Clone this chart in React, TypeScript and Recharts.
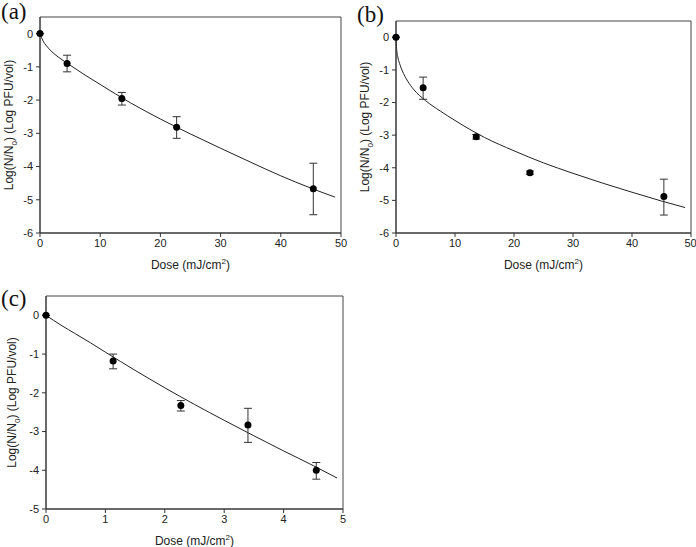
import React from 'react';
import {
  ComposedChart,
  Line,
  Scatter,
  ErrorBar,
  XAxis,
  YAxis,
  ReferenceArea,
  Label,
} from 'recharts';

// (a) measured points + fitted curve
const doseA = [0, 4.5, 13.6, 22.7, 45.4];
const logA = [0, -0.9, -1.95, -2.82, -4.67];
const errLowA = [0, 0.25, 0.2, 0.33, 0.78];
const errHighA = [0, 0.25, 0.18, 0.32, 0.77];
const fitDoseA = [0, 0.5, 1, 2, 3, 5, 7.5, 10, 15, 20, 25, 30, 35, 40, 45, 49];
const fitLogA = [0, -0.22, -0.35, -0.55, -0.7, -0.95, -1.25, -1.53, -2.08, -2.57, -3.02, -3.45, -3.87, -4.28, -4.65, -4.92];

// (b)
const doseB = [0, 4.6, 13.6, 22.7, 45.4];
const logB = [0, -1.55, -3.05, -4.15, -4.88];
const errLowB = [0, 0.35, 0.07, 0.05, 0.57];
const errHighB = [0, 0.33, 0.07, 0.05, 0.53];
const fitDoseB = [0, 0.1, 0.3, 0.6, 1, 2, 3, 5, 7.5, 10, 15, 20, 25, 30, 35, 40, 45, 49];
const fitLogB = [0, -0.35, -0.6, -0.8, -1.0, -1.35, -1.6, -1.94, -2.26, -2.55, -3.07, -3.48, -3.85, -4.17, -4.47, -4.75, -5.02, -5.22];

// (c)
const doseC = [0, 1.13, 2.27, 3.4, 4.55];
const logC = [0, -1.18, -2.33, -2.83, -4.0];
const errLowC = [0, 0.2, 0.14, 0.45, 0.23];
const errHighC = [0, 0.18, 0.13, 0.43, 0.2];
const fitDoseC = [0, 0.25, 0.5, 0.75, 1, 1.5, 2, 2.5, 3, 3.5, 4, 4.5, 4.9];
const fitLogC = [0, -0.25, -0.48, -0.71, -0.95, -1.42, -1.87, -2.3, -2.71, -3.11, -3.5, -3.88, -4.2];

const ticksX50 = [0, 10, 20, 30, 40, 50];
const ticksX5 = [0, 1, 2, 3, 4, 5];
const ticksY6 = [-6, -5, -4, -3, -2, -1, 0];
const ticksY5 = [-5, -4, -3, -2, -1, 0];

const FONT = '"Liberation Sans", Arial, sans-serif';
const INK = '#222';

const XTitle = ({ viewBox }: any) => {
  const cx = viewBox.x + viewBox.width / 2;
  const y = viewBox.y + 36;
  return (
    <text x={cx} y={y} textAnchor="middle" fontFamily={FONT} fontSize={12} fill={INK}>
      Dose (mJ/cm
      <tspan fontSize={8} dy={-5}>2</tspan>
      <tspan dy={5}>)</tspan>
    </text>
  );
};

const makeYTitle = (dx: number) => ({ viewBox }: any) => {
  const x = viewBox.x + dx;
  const cy = viewBox.y + viewBox.height / 2;
  return (
    <text
      x={x}
      y={cy}
      transform={`rotate(-90 ${x} ${cy})`}
      textAnchor="middle"
      fontFamily={FONT}
      fontSize={12}
      fill={INK}
    >
      Log(N/N
      <tspan fontSize={8} dy={4}>0</tspan>
      <tspan dy={-4}>) (Log PFU/vol)</tspan>
    </text>
  );
};

const Dot = (p: any) => <circle cx={p.cx} cy={p.cy} r={3.5} fill="#000" />;

interface PanelProps {
  left: number;
  top: number;
  width: number;
  height: number;
  margin: { top: number; right: number; bottom: number; left: number };
  xAxisHeight: number;
  yTitleDx: number;
  xMax: number;
  yMin: number;
  xTicks: number[];
  yTicks: number[];
  dose: number[];
  logv: number[];
  errLow: number[];
  errHigh: number[];
  fitDose: number[];
  fitLog: number[];
  tag: string;
  tagLeft: number;
  tagTop: number;
}

const Panel = (p: PanelProps) => {
  const points = p.dose.map((x, i) => ({ x, y: p.logv[i], err: [p.errLow[i], p.errHigh[i]] }));
  const curve = p.fitDose.map((x, i) => ({ x, y: p.fitLog[i] }));
  return (
    <>
      <div
        style={{
          position: 'absolute',
          left: p.tagLeft,
          top: p.tagTop,
          fontFamily: '"Liberation Serif", "Times New Roman", serif',
          fontSize: 23,
          lineHeight: 1,
          color: '#111',
        }}
      >
        {p.tag}
      </div>
      <div style={{ position: 'absolute', left: p.left, top: p.top }}>
        <ComposedChart width={p.width} height={p.height} margin={p.margin}>
          <XAxis
            dataKey="x"
            type="number"
            domain={[0, p.xMax]}
            ticks={p.xTicks}
            height={p.xAxisHeight}
            tickSize={4}
            tickMargin={2}
            stroke="#333"
            tick={{ fontSize: 11, fontFamily: FONT, fill: INK }}
          >
            <Label content={XTitle} />
          </XAxis>
          <YAxis
            dataKey="y"
            type="number"
            domain={[p.yMin, 0.5]}
            ticks={p.yTicks}
            width={40}
            tickSize={4}
            tickMargin={3}
            stroke="#333"
            allowDataOverflow
            tick={{ fontSize: 11, fontFamily: FONT, fill: INK }}
          >
            <Label content={makeYTitle(p.yTitleDx)} />
          </YAxis>
          <ReferenceArea x1={0} x2={p.xMax} y1={p.yMin} y2={0.5} fill="none" stroke="#444" strokeWidth={1} />
          <Line
            data={curve}
            dataKey="y"
            type="monotone"
            stroke="#222"
            strokeWidth={1}
            dot={false}
            activeDot={false}
            isAnimationActive={false}
          />
          <Scatter data={points} dataKey="y" shape={Dot} isAnimationActive={false}>
            <ErrorBar dataKey="err" direction="y" width={4} stroke="#333" strokeWidth={1} isAnimationActive={false} />
          </Scatter>
        </ComposedChart>
      </div>
    </>
  );
};

export default function App() {
  return (
    <div style={{ position: 'absolute', left: 0, top: 0, width: 696, height: 547, background: '#fff', overflow: 'hidden' }}>
      <Panel
        left={0}
        top={0}
        width={350}
        height={280}
        margin={{ top: 17, right: 9, bottom: 0, left: 0 }}
        xAxisHeight={47}
        yTitleDx={13}
        xMax={50}
        yMin={-6}
        xTicks={ticksX50}
        yTicks={ticksY6}
        dose={doseA}
        logv={logA}
        errLow={errLowA}
        errHigh={errHighA}
        fitDose={fitDoseA}
        fitLog={fitLogA}
        tag="(a)"
        tagLeft={1}
        tagTop={0}
      />
      <Panel
        left={350}
        top={0}
        width={346}
        height={280}
        margin={{ top: 21, right: 5, bottom: 0, left: 6 }}
        xAxisHeight={47}
        yTitleDx={13}
        xMax={50}
        yMin={-6}
        xTicks={ticksX50}
        yTicks={ticksY6}
        dose={doseB}
        logv={logB}
        errLow={errLowB}
        errHigh={errHighB}
        fitDose={fitDoseB}
        fitLog={fitLogB}
        tag="(b)"
        tagLeft={357}
        tagTop={3}
      />
      <Panel
        left={0}
        top={270}
        width={350}
        height={277}
        margin={{ top: 26, right: 7, bottom: 0, left: 6 }}
        xAxisHeight={38}
        yTitleDx={10}
        xMax={5}
        yMin={-5}
        xTicks={ticksX5}
        yTicks={ticksY5}
        dose={doseC}
        logv={logC}
        errLow={errLowC}
        errHigh={errHighC}
        fitDose={fitDoseC}
        fitLog={fitLogC}
        tag="(c)"
        tagLeft={1}
        tagTop={287}
      />
    </div>
  );
}
